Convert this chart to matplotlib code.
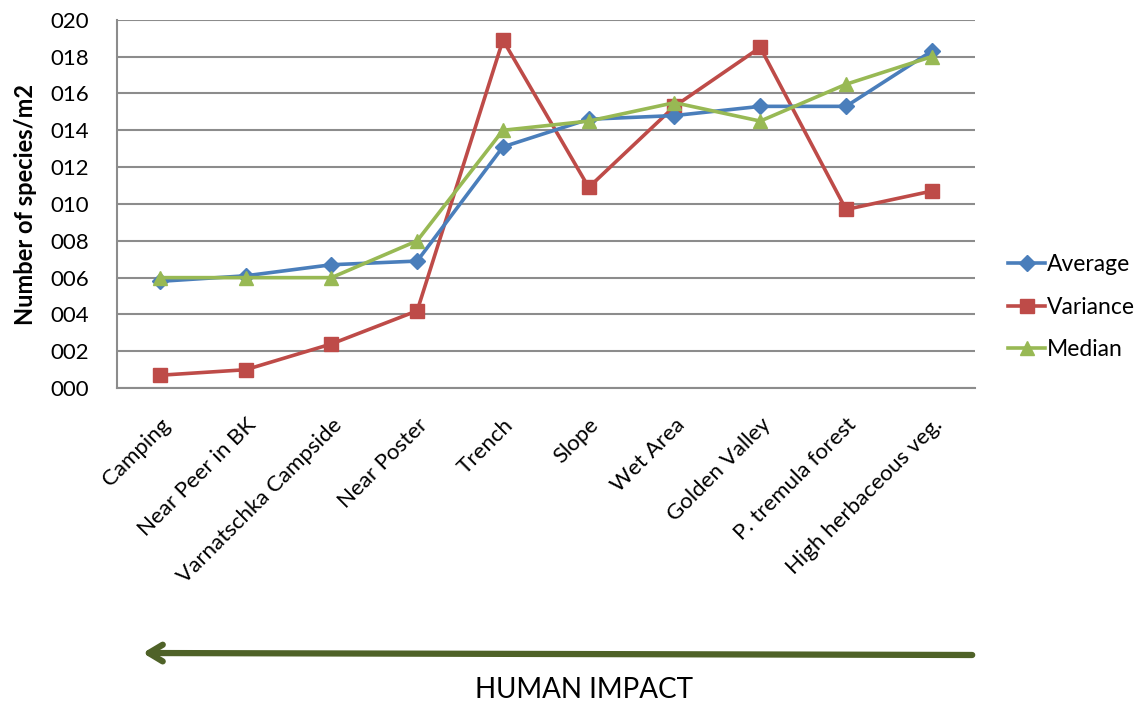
import matplotlib
matplotlib.use("Agg")
import matplotlib.pyplot as plt
import numpy as np

sites = ["Camping", "Near Peer in BK", "Varnatschka Campside", "Near Poster", "Trench",
         "Slope", "Wet Area", "Golden Valley", "P. tremula forest", "High herbaceous veg."]
average = [5.8, 6.1, 6.7, 6.9, 13.1, 14.6, 14.8, 15.3, 15.3, 18.3]
variance = [0.7, 1.0, 2.4, 4.2, 18.9, 10.9, 15.3, 18.5, 9.7, 10.7]
median = [6.0, 6.0, 6.0, 8.0, 14.0, 14.5, 15.5, 14.5, 16.5, 18.0]
yticks = [0, 2, 4, 6, 8, 10, 12, 14, 16, 18, 20]

plt.rcParams['font.family'] = ['Lato', 'DejaVu Sans']

fig = plt.figure(figsize=(11.4, 7.07), dpi=100)
ax = fig.add_axes([0.1026, 0.451, 0.7524, 0.521])

x = np.arange(len(sites))
ax.plot(x, average, color='#4A7EBB', lw=2.6, marker='D', ms=8, label='Average', zorder=4)
ax.plot(x, variance, color='#BE4B48', lw=2.6, marker='s', ms=10, label='Variance', zorder=3)
ax.plot(x, median, color='#98B954', lw=2.6, marker='^', ms=10, label='Median', zorder=5)

ax.set_xlim(-0.5, len(sites) - 0.5)
ax.set_ylim(0, 20)
ax.set_yticks(yticks)
ax.set_yticklabels([f"{v:03d}" for v in yticks], fontsize=16)
ax.set_xticks(x)
ax.set_xticklabels(sites, rotation=45, ha='right', rotation_mode='anchor', fontsize=16)
ax.tick_params(axis='y', length=0, pad=20)
ax.tick_params(axis='x', length=0, pad=19)
ax.grid(axis='y', color='#8c8c8c', lw=1.5)
ax.set_axisbelow(True)
for s in ['top', 'right']:
    ax.spines[s].set_visible(False)
ax.spines['left'].set_color('#8c8c8c')
ax.spines['left'].set_linewidth(1.5)
ax.spines['bottom'].set_color('#8c8c8c')
ax.spines['bottom'].set_linewidth(1.5)
ax.set_ylabel("Number of species/m2", fontsize=17, fontweight='bold', labelpad=10)

ax.legend(loc='center left', bbox_to_anchor=(1.015, 0.22), frameon=False, fontsize=16.5,
          handlelength=1.6, labelspacing=0.95, handletextpad=0.1)

fig.patches.append(matplotlib.patches.FancyArrowPatch(
    (975 / 1140, 1 - 655 / 707), (140 / 1140, 1 - 653 / 707), transform=fig.transFigure,
    arrowstyle='->,head_length=10,head_width=6', color='#4F6228', lw=4.5,
    mutation_scale=1))
fig.text(584 / 1140, 1 - 690 / 707, "HUMAN IMPACT", fontsize=20, ha='center', va='center')

fig.savefig("out.png", dpi=100)
